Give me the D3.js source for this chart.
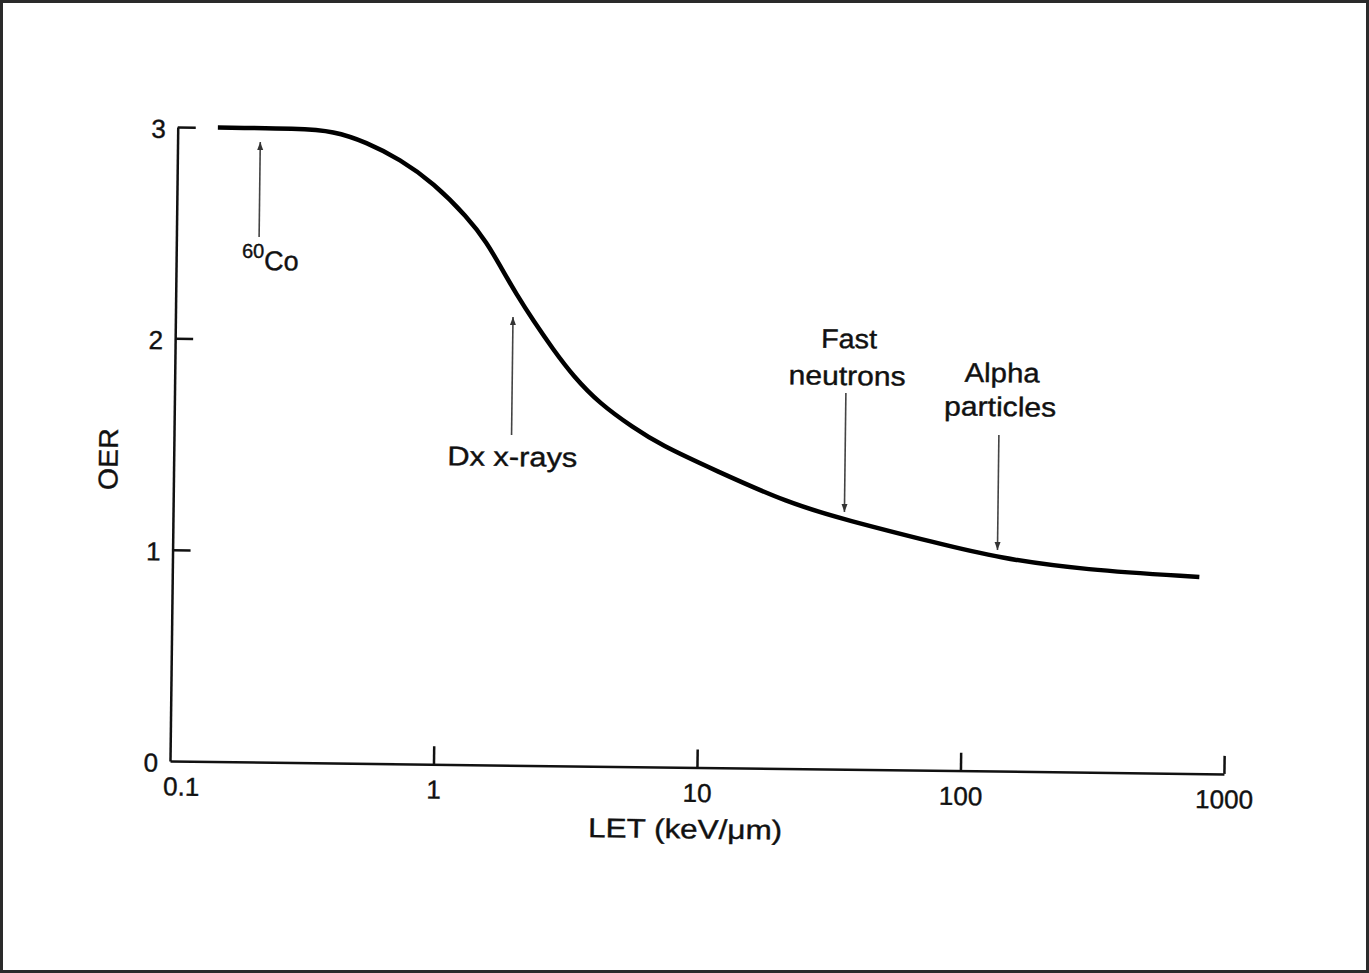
<!DOCTYPE html>
<html><head><meta charset="utf-8">
<script src="https://cdn.jsdelivr.net/npm/d3@7"></script>
<style>
html,body{margin:0;padding:0;background:#fff;}
svg{display:block;}
text{font-family:"Liberation Sans",Arial,Helvetica,sans-serif;}
</style></head><body>
<svg id="chart" width="1369" height="973"></svg>
<script>
// ---- data ----
const letValues = [0.142,0.29,0.39,0.52,0.70,0.94,1.27,1.51,1.70,1.97,2.28,2.72,3.25,4.12,5.52,7.0,11.3,21.6,35.9,79,137,288,790];
const oerValues = [3.0,3.0,2.99,2.94,2.86,2.75,2.59,2.47,2.36,2.225,2.105,1.97,1.845,1.715,1.605,1.525,1.408,1.256,1.179,1.076,1.008,0.957,0.93];
const xTickValues = [0.1,1,10,100,1000];
const xTickLabels = ["0.1","1","10","100","1000"];
const yTickValues = [0,1,2,3];
const yTickLabels = ["0","1","2","3"];
const annotationLabels = [["60","Co"],["Dx x-rays"],["Fast","neutrons"],["Alpha","particles"]];
const annotationLET = [0.206,1.91,35.3,135];
const annotationTailOER = [2.485,1.562,1.780,1.590];
const annotationHeadOER = [2.934,2.121,1.217,1.046];
const xAxisTitle = "LET (keV/μm)";
const yAxisTitle = "OER";

// ---- layout / style ----
const svg = d3.select("#chart");
const X0 = 170, X1 = 1224, Y0 = 761, Y1 = 127;
const ink = "#111";
const textWidths = {"Fast":56,"neutrons":117,"Alpha":75,"particles":112,"Dx x-rays":130};

svg.append("rect").attr("x",1.5).attr("y",1.5).attr("width",1366).attr("height",970)
  .attr("fill","none").attr("stroke","#2a2a2a").attr("stroke-width",3);

const x = d3.scaleLog().domain([0.1,1000]).range([X0,X1]);
const y = d3.scaleLinear().domain([0,3]).range([Y0,Y1]);

const g = svg.append("g").attr("transform",`rotate(0.7,${X0},${Y0})`);

// x axis
const gx = g.append("g").attr("transform",`translate(0,${Y0})`)
  .call(d3.axisBottom(x).tickValues(xTickValues).tickFormat((d,i)=>xTickLabels[i])
    .tickSizeInner(-18).tickSizeOuter(0).tickPadding(16));
gx.attr("font-family",null).attr("font-size",null);
gx.select(".domain").attr("stroke",ink).attr("stroke-width",2.5);
gx.selectAll(".tick line").attr("stroke",ink).attr("stroke-width",2.5);
gx.selectAll(".tick").filter(d=>d===0.1).select("line").remove();
gx.selectAll(".tick text").attr("font-size",26).attr("fill",ink)
  .attr("stroke",ink).attr("stroke-width",0.4)
  .attr("dx",d=>d===0.1?11:0);

// y axis
const gy = g.append("g").attr("transform",`translate(${X0},0)`)
  .call(d3.axisLeft(y).tickValues(yTickValues).tickFormat((d,i)=>yTickLabels[i])
    .tickSizeInner(-18).tickSizeOuter(0).tickPadding(12));
gy.attr("font-family",null).attr("font-size",null);
gy.select(".domain").attr("stroke",ink).attr("stroke-width",2.5);
gy.selectAll(".tick line").attr("stroke",ink).attr("stroke-width",2.5);
gy.selectAll(".tick").filter(d=>d===0).select("line").remove();
gy.selectAll(".tick text").attr("font-size",26).attr("fill",ink).attr("dy","0.4em")
  .attr("stroke",ink).attr("stroke-width",0.4);

// axis titles
g.append("text").attr("x",686).attr("y",832).attr("text-anchor","middle")
  .attr("font-size",27).attr("fill",ink).attr("stroke",ink).attr("stroke-width",0.4)
  .attr("textLength",194).attr("lengthAdjust","spacingAndGlyphs").text(xAxisTitle);
g.append("text").attr("transform","translate(114,460) rotate(-90)").attr("text-anchor","middle")
  .attr("font-size",27).attr("fill",ink).attr("stroke",ink).attr("stroke-width",0.4)
  .attr("textLength",62).attr("lengthAdjust","spacingAndGlyphs").text(yAxisTitle);

// curve
const pts = letValues.map((v,i)=>[v,oerValues[i]]);
g.append("path").datum(pts)
  .attr("d",d3.line().x(d=>x(d[0])).y(d=>y(d[1])).curve(d3.curveBasis))
  .attr("fill","none").attr("stroke","#000").attr("stroke-width",4.5);

// arrows
svg.append("defs").append("marker").attr("id","ah")
  .attr("markerUnits","userSpaceOnUse").attr("markerWidth",10).attr("markerHeight",8)
  .attr("refX",8).attr("refY",3).attr("orient","auto")
  .append("path").attr("d","M0,0 L8,3 L0,6 Z").attr("fill","#333");

annotationLET.forEach((v,i)=>{
  const ax = x(v), yt = y(annotationTailOER[i]), yh = y(annotationHeadOER[i]);
  g.append("line").attr("x1",ax).attr("x2",ax).attr("y1",yt).attr("y2",yh)
    .attr("stroke","#444").attr("stroke-width",1.6).attr("marker-end","url(#ah)");
  const lab = annotationLabels[i];
  const common = s => s.attr("fill",ink).attr("stroke",ink).attr("stroke-width",0.4);
  if (i===0) {
    const t = g.append("text").attr("x",ax+11.5).attr("y",yt+33).attr("text-anchor","middle").call(common);
    t.append("tspan").attr("font-size",20).attr("dy",-12).text(lab[0]);
    t.append("tspan").attr("font-size",27).attr("dy",12).text(lab[1]);
  } else if (i===1) {
    g.append("text").attr("x",ax+1).attr("y",yt+31).attr("text-anchor","middle").attr("font-size",27)
      .attr("textLength",textWidths[lab[0]]).attr("lengthAdjust","spacingAndGlyphs").call(common).text(lab[0]);
  } else {
    const gap = i===2 ? 8 : 19, lh = i===2 ? 37 : 34;
    const last = yt - gap;
    lab.forEach((s,j)=>{
      g.append("text").attr("x",ax+(j===0?2.5:1)).attr("y",last-(lab.length-1-j)*lh)
        .attr("text-anchor","middle").attr("font-size",27)
        .attr("textLength",textWidths[s]).attr("lengthAdjust","spacingAndGlyphs").call(common).text(s);
    });
  }
});
</script>
</body></html>
